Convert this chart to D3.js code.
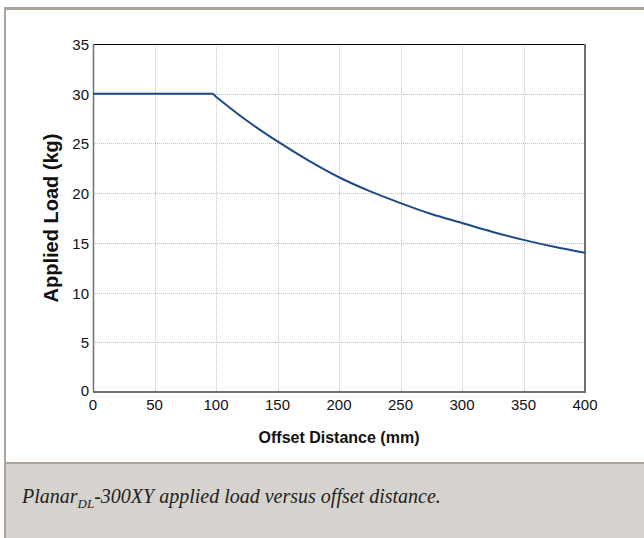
<!DOCTYPE html>
<html>
<head>
<meta charset="utf-8">
<script src="https://cdn.jsdelivr.net/npm/d3@7"></script>
<style>
body { margin: 0; background: #fff; }
</style>
</head>
<body>
<script>
var W = 644, H = 538;

// values
var distance = [0, 50, 97, 100, 125, 150, 175, 200, 225, 250, 275, 300, 325, 350, 375, 400];
var load = [30, 30, 30, 29.7, 27.3, 25.2, 23.3, 21.6, 20.2, 19.0, 17.9, 17.0, 16.1, 15.3, 14.6, 14.0];
var xTicks = [0, 50, 100, 150, 200, 250, 300, 350, 400];
var yTicks = [0, 5, 10, 15, 20, 25, 30, 35];

var pLeft = 93, pRight = 585, pTop = 44, pBottom = 392;

var svg = d3.select("body").append("svg")
    .attr("width", W)
    .attr("height", H);

// frame + caption panel
svg.append("rect")
    .attr("x", 0).attr("y", 0).attr("width", W).attr("height", H)
    .attr("fill", "#fff");
svg.append("rect")
    .attr("x", 5.5).attr("y", 463).attr("width", W).attr("height", H - 463)
    .attr("fill", "#d6d2cd");
svg.append("line")
    .attr("x1", 5).attr("x2", W).attr("y1", 463).attr("y2", 463)
    .attr("stroke", "#aaa49d").attr("stroke-width", 2);
svg.append("line")
    .attr("x1", 4).attr("x2", W).attr("y1", 8.5).attr("y2", 8.5)
    .attr("stroke", "#aaa49d").attr("stroke-width", 3);
svg.append("line")
    .attr("x1", 5).attr("x2", 5).attr("y1", 7).attr("y2", H)
    .attr("stroke", "#aaa49d").attr("stroke-width", 2);

var x = d3.scaleLinear().domain([0, 400]).range([pLeft, pRight]);
var y = d3.scaleLinear().domain([0, 35]).range([pBottom, pTop]);

// grid
svg.append("g").selectAll("line")
    .data(xTicks.slice(1, -1))
    .enter().append("line")
    .attr("x1", function(d) { return Math.round(x(d)) + 0.5; })
    .attr("x2", function(d) { return Math.round(x(d)) + 0.5; })
    .attr("y1", pTop).attr("y2", pBottom)
    .attr("stroke", "#c4c4c4").attr("stroke-dasharray", "1,1");
svg.append("g").selectAll("line")
    .data(yTicks.slice(1, -1))
    .enter().append("line")
    .attr("x1", pLeft).attr("x2", pRight)
    .attr("y1", function(d) { return Math.round(y(d)) + 0.5; })
    .attr("y2", function(d) { return Math.round(y(d)) + 0.5; })
    .attr("stroke", "#c4c4c4").attr("stroke-dasharray", "1,1");

// plot frame
svg.append("line").attr("x1", pLeft).attr("x2", pRight).attr("y1", pTop + 0.5).attr("y2", pTop + 0.5)
    .attr("stroke", "#000").attr("stroke-width", 1);
svg.append("line").attr("x1", pLeft + 0.5).attr("x2", pLeft + 0.5).attr("y1", pTop).attr("y2", pBottom)
    .attr("stroke", "#707070").attr("stroke-width", 1.5);
svg.append("line").attr("x1", pLeft).attr("x2", pRight + 1).attr("y1", pBottom).attr("y2", pBottom)
    .attr("stroke", "#707070").attr("stroke-width", 2);
svg.append("line").attr("x1", pRight).attr("x2", pRight).attr("y1", pTop).attr("y2", pBottom)
    .attr("stroke", "#707070").attr("stroke-width", 2);

// curve
var line = d3.line()
    .x(function(d, i) { return x(distance[i]); })
    .y(function(d) { return y(d); })
    .curve(d3.curveMonotoneX);
svg.append("path")
    .datum(load)
    .attr("d", line)
    .attr("fill", "none")
    .attr("stroke", "#1d4a87")
    .attr("stroke-width", 2);

// tick labels
svg.append("g").selectAll("text")
    .data(xTicks)
    .enter().append("text")
    .text(function(d) { return d; })
    .attr("x", function(d) { return x(d); })
    .attr("y", pBottom + 18)
    .attr("text-anchor", "middle")
    .attr("font-family", "Liberation Sans, Arial, sans-serif")
    .attr("font-size", 15)
    .attr("fill", "#111");
svg.append("g").selectAll("text")
    .data(yTicks)
    .enter().append("text")
    .text(function(d) { return d; })
    .attr("x", pLeft - 4)
    .attr("y", function(d) { return y(d) + 6 - (d == 0 ? 2 : 0); })
    .attr("text-anchor", "end")
    .attr("font-family", "Liberation Sans, Arial, sans-serif")
    .attr("font-size", 15)
    .attr("fill", "#111");

// axis titles
svg.append("text")
    .text("Offset Distance (mm)")
    .attr("x", (pLeft + pRight) / 2)
    .attr("y", 443)
    .attr("text-anchor", "middle")
    .attr("font-family", "Liberation Sans, Arial, sans-serif")
    .attr("font-weight", "bold")
    .attr("font-size", 16)
    .attr("fill", "#111");
svg.append("text")
    .text("Applied Load (kg)")
    .attr("transform", "translate(58,218) rotate(-90)")
    .attr("text-anchor", "middle")
    .attr("font-family", "Liberation Sans, Arial, sans-serif")
    .attr("font-weight", "bold")
    .attr("font-size", 20)
    .attr("fill", "#111");

// caption
var cap = svg.append("text")
    .attr("x", 22)
    .attr("y", 503)
    .attr("font-family", "Liberation Serif, Times New Roman, serif")
    .attr("font-style", "italic")
    .attr("font-size", 20)
    .attr("fill", "#222");
cap.append("tspan").text("Planar");
cap.append("tspan").text("DL").attr("font-size", 13).attr("dy", 5);
cap.append("tspan").text("-300XY applied load versus offset distance.").attr("dy", -5);
</script>
</body>
</html>
